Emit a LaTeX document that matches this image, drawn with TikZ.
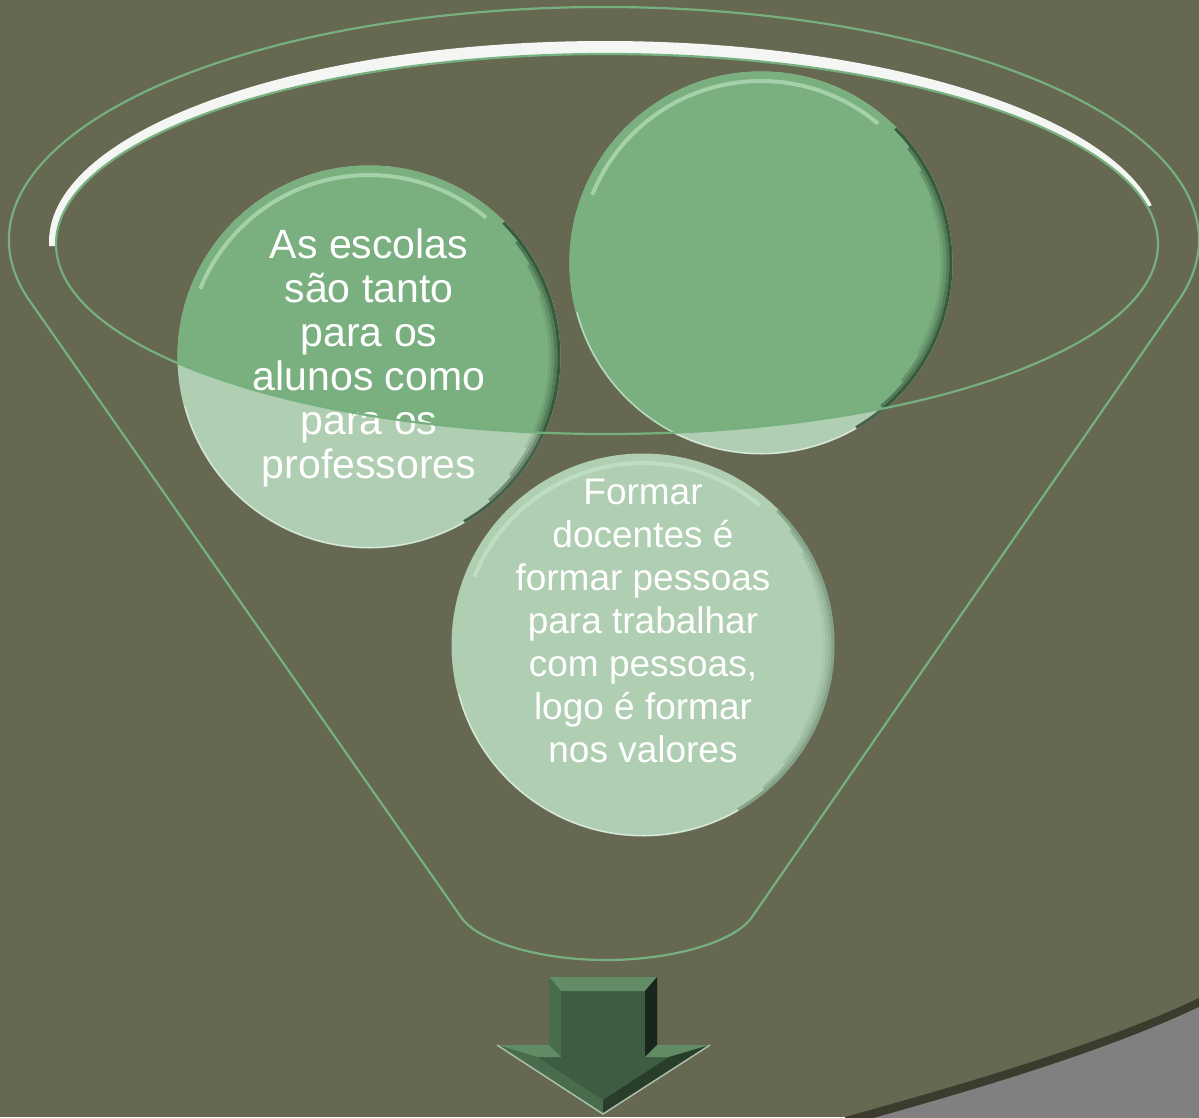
\documentclass[tikz,border=0pt]{standalone}
\usepackage{fontspec}
\setmainfont{Liberation Sans}
\definecolor{bg}{RGB}{102,104,82}
\definecolor{cornergray}{RGB}{128,128,128}
\definecolor{darkband}{RGB}{58,60,45}
\definecolor{funnel}{RGB}{118,176,126}
\definecolor{midg}{RGB}{122,175,128}
\definecolor{lightg}{RGB}{176,206,178}
\definecolor{hl}{RGB}{200,238,204}
\definecolor{shadeg}{RGB}{35,62,40}
\definecolor{whitehl}{RGB}{244,246,244}
\definecolor{arrowg}{RGB}{62,92,66}
\definecolor{arrowlight}{RGB}{98,140,102}
\definecolor{arrowside}{RGB}{72,108,76}
\definecolor{arrowdark}{RGB}{24,38,27}
\definecolor{arrowlow}{RGB}{40,62,43}
\definecolor{edgegray}{RGB}{172,190,172}
\begin{document}
\begin{tikzpicture}[x=1pt,y=-1pt,
  funnelline/.style={draw=funnel, line width=2.2pt},
  bubble/.style={circle, minimum size=383pt, inner sep=0pt, fill=lightg},
  bubbletext/.style={text=white, align=center, inner sep=0pt},
  rimlight/.style={draw=hl, line width=4pt, opacity=0.55},
  rimdark/.style={draw=shadeg, line width=3pt},
  rimwhite/.style={draw=white, line width=1.2pt, opacity=0.55}]
\useasboundingbox (0,0) rectangle (1199,1117);
\clip (0,0) rectangle (1199,1117);
% background
\fill[bg] (0,0) rectangle (1199,1117);
% grey corner
\fill[darkband] (845,1117) .. controls (960,1085) and (1100,1045) .. (1199,998) -- (1199,1130) -- (845,1130) -- cycle;
\fill[cornergray] (845,1126) .. controls (960,1094) and (1100,1054) .. (1199,1007) -- (1199,1130) -- (845,1130) -- cycle;
% funnel outline
\draw[funnelline] (30.1,301.5) arc[start angle=195.3, end angle=-15.3, x radius=595pt, y radius=233pt]
  -- (752,917) .. controls (735,942) and (672,960) .. (606,960)
  .. controls (540,960) and (478,942) .. (461,917) -- cycle;
% white highlight on the rim
\begin{scope}
  \clip (0,0) -- (1199,0) -- (1199,185) -- (1150,206) -- (0,248) -- cycle;
  \fill[whitehl, even odd rule] (605,242) ellipse [x radius=556pt, y radius=201pt]
    (607,244) ellipse [x radius=551pt, y radius=190pt];
\end{scope}
% bubbles
\node[bubble] (c1) at (369,357) {};
\node[bubble] (c2) at (761,263) {};
\node[bubble] (c3) at (643,645) {};
\begin{scope}
  \clip (607,244) ellipse [x radius=551pt, y radius=190pt];
  \fill[midg] (c1.center) circle (191.5pt);
  \fill[midg] (c2.center) circle (191.5pt);
\end{scope}
% bevels
\foreach \c/\op in {c1/1, c2/1, c3/0.4} {
  \draw[rimdark, opacity=0.75*\op] (\c.center) ++(-60:190pt) arc[start angle=-60, end angle=45, radius=190pt];
  \draw[rimdark, opacity=0.45*\op] (\c.center) ++(-50:187pt) arc[start angle=-50, end angle=38, radius=187pt];
  \draw[rimdark, opacity=0.25*\op] (\c.center) ++(-40:184pt) arc[start angle=-40, end angle=30, radius=184pt];
  \draw[rimdark, opacity=0.1*\op] (\c.center) ++(-30:181pt) arc[start angle=-30, end angle=20, radius=181pt];
  \draw[rimlight] (\c.center) ++(158:182pt) arc[start angle=158, end angle=50, radius=182pt];
  \draw[rimwhite] (\c.center) ++(195:190.5pt) arc[start angle=195, end angle=300, radius=190.5pt];
}
% texts
\node[bubbletext, font=\fontsize{41}{44}\selectfont] (t1) at (369,358)
  {As escolas\\são tanto\\para os\\alunos como\\para os\\professores};
\node[bubbletext, font=\fontsize{37}{43}\selectfont] (t3) at (643,621)
  {Formar\\docentes é\\formar pessoas\\para trabalhar\\com pessoas,\\logo é formar\\nos valores};
% inner rim of the funnel
\draw[funnelline] (607,244) ellipse [x radius=551pt, y radius=190pt];
% arrow
\fill[arrowg] (549,977) -- (657,977) -- (657,1045) -- (710,1045) -- (603,1114) -- (497,1045) -- (549,1045) -- cycle;
\fill[arrowlight] (549,977) -- (657,977) -- (645,991) -- (561,991) -- cycle;
\fill[arrowside] (549,977) -- (561,991) -- (561,1057) -- (549,1045) -- cycle;
\fill[arrowdark] (657,977) -- (657,1045) -- (645,1057) -- (645,991) -- cycle;
\fill[arrowlight] (497,1045) -- (549,1045) -- (561,1057) -- (537,1057) -- cycle;
\fill[arrowlight] (657,1045) -- (710,1045) -- (669,1057) -- (645,1057) -- cycle;
\fill[arrowside] (497,1045) -- (537,1057) -- (603,1100) -- (603,1114) -- cycle;
\fill[arrowlow] (710,1045) -- (603,1114) -- (603,1100) -- (669,1057) -- cycle;
\draw[edgegray, line width=1.5pt, line join=miter] (497,1045) -- (603,1114) -- (710,1045);
\end{tikzpicture}
\end{document}
